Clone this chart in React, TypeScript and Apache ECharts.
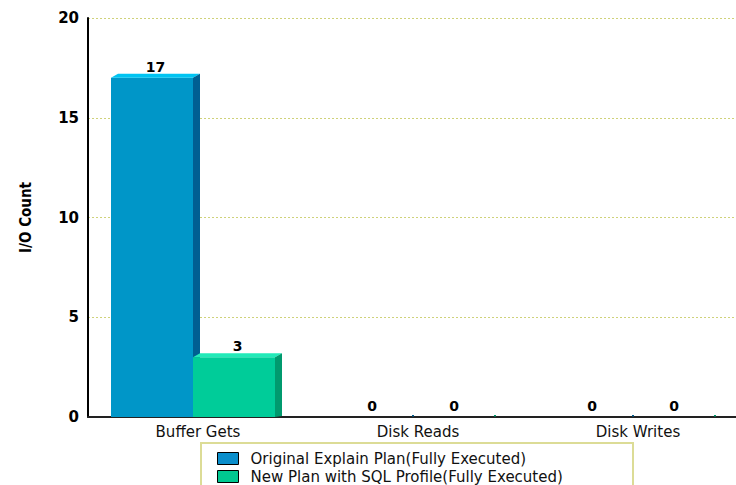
import React, { useEffect, useRef } from "react";
import * as echarts from "echarts";

const categories = ["Buffer Gets", "Disk Reads", "Disk Writes"];
const originalValues = [17, 0, 0];
const profileValues = [3, 0, 0];
const seriesNames = [
  "Original Explain Plan(Fully Executed)",
  "New Plan with SQL Profile(Fully Executed)",
];
const yTicks = { min: 0, max: 20, interval: 5 };

const palettes = [
  { front: "#0096c8", top: "#00c4f2", side: "#005f92", legend: "#0a8ecb" },
  { front: "#00cc99", top: "#22eab8", side: "#009a6e", legend: "#00c890" },
];

export default function App() {
  const ref = useRef<HTMLDivElement>(null);
  useEffect(() => {
    if (!ref.current) return;
    const chart = echarts.init(ref.current, undefined, { renderer: "svg" });
    const dx = 7;
    const dy = 4;
    const makeRender = (pal: any) => (params: any, api: any) => {
      const idx = api.value(0);
      const v = api.value(1);
      const base = api.coord([idx, 0]);
      const top = api.coord([idx, v]);
      const bandW = api.size([1, 0])[0];
      const k = bandW / 220;
      const barW = 82 * k;
      const si = params.seriesIndex;
      const x0 = base[0] - 5 * k - barW + si * barW;
      const ty = top[1];
      const by = base[1];
      const children: any[] = [];
      if (v > 0) {
        children.push(
          {
            type: "rect",
            shape: { x: x0, y: ty, width: barW, height: by - ty },
            style: { fill: pal.front },
          },
          {
            type: "polygon",
            shape: {
              points: [
                [x0, ty],
                [x0 + dx, ty - dy],
                [x0 + barW + dx, ty - dy],
                [x0 + barW, ty],
              ],
            },
            style: { fill: pal.top },
          },
          {
            type: "polygon",
            shape: {
              points: [
                [x0 + barW, ty],
                [x0 + barW + dx, ty - dy],
                [x0 + barW + dx, by - 1],
                [x0 + barW, by],
              ],
            },
            style: { fill: pal.side },
          }
        );
      } else {
        children.push({
          type: "rect",
          shape: { x: x0 + barW - 1, y: by - 2, width: 2, height: 1.5 },
          style: { fill: pal.side },
        });
      }
      children.push({
        type: "text",
        style: {
          text: String(v),
          x: x0 + barW / 2 + (v > 0 ? dx / 2 : 0),
          y: ty - dy,
          align: "center",
          verticalAlign: "bottom",
          font: "bold 14px 'DejaVu Sans'",
          fill: "#000",
        },
      });
      return { type: "group", children };
    };
    const seriesData = [originalValues, profileValues];
    chart.setOption({
      animation: false,
      backgroundColor: "#fff",
      grid: {
        left: 88,
        top: 18,
        right: -12,
        bottom: 68,
        containLabel: false,
        outerBoundsMode: "none",
      },
      graphic: [
        {
          type: "rect",
          z: 0,
          shape: { x: 201, y: 443, width: 432, height: 70 },
          style: { fill: "#fff", stroke: "#dcdc96", lineWidth: 2 },
        },
      ],
      legend: {
        orient: "vertical",
        left: 212,
        top: 446,
        height: 80,
        z: 5,
        itemWidth: 21,
        itemHeight: 12,
        itemGap: 3,
        icon: "rect",
        data: seriesNames.map((n, i) => ({
          name: n,
          itemStyle: { color: palettes[i].legend, borderColor: "#000", borderWidth: 1 },
        })),
        textStyle: {
          fontFamily: "DejaVu Sans",
          fontSize: 15,
          color: "#111",
          padding: [0, 0, 0, 7],
        },
      },
      xAxis: {
        type: "category",
        data: categories,
        axisLine: { lineStyle: { color: "#222", width: 2 } },
        axisTick: { show: false },
        axisLabel: {
          fontFamily: "DejaVu Sans",
          fontSize: 15,
          color: "#111",
          margin: 7,
        },
        splitLine: { show: false },
      },
      yAxis: {
        type: "value",
        min: yTicks.min,
        max: yTicks.max,
        interval: yTicks.interval,
        name: "I/O Count",
        nameLocation: "middle",
        nameRotate: 90,
        nameGap: 55,
        nameTextStyle: {
          fontFamily: "'DejaVu Sans Condensed', 'DejaVu Sans'",
          fontWeight: "bold",
          fontSize: 15,
          color: "#000",
        },
        axisLine: { show: true, lineStyle: { color: "#000", width: 2 } },
        axisTick: { show: false },
        axisLabel: {
          fontFamily: "DejaVu Sans",
          fontWeight: "bold",
          fontSize: 15,
          color: "#000",
          margin: 9,
        },
        splitLine: {
          show: true,
          lineStyle: { color: "#cfd27a", type: [2, 2], width: 1 },
        },
      },
      series: seriesData.map((vals, i) => ({
        type: "custom",
        name: seriesNames[i],
        itemStyle: { color: palettes[i].legend },
        data: vals.map((v, j) => [j, v]),
        encode: { x: 0, y: 1 },
        renderItem: makeRender(palettes[i]),
        clip: false,
        z: 3 + i,
      })),
    });
    return () => chart.dispose();
  }, []);
  return (
    <div
      ref={ref}
      style={{ position: "fixed", left: 0, top: 0, width: 736, height: 485 }}
    />
  );
}
